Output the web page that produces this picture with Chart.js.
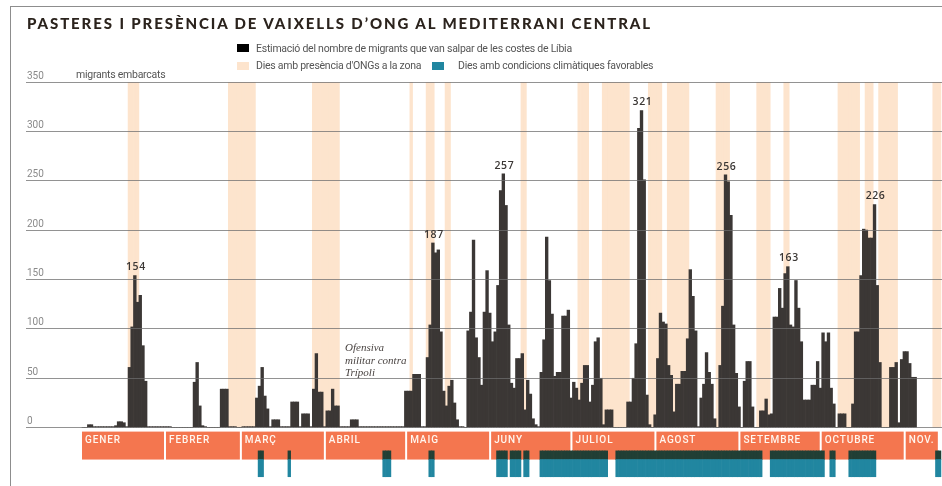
<!DOCTYPE html>
<html>
<head>
<meta charset="utf-8">
<script src="https://cdn.jsdelivr.net/npm/chart.js@4.4.1/dist/chart.umd.min.js"></script>
<style>
  body { margin: 0; background: #fff; width: 942px; height: 486px; overflow: hidden; position: relative; font-family: Roboto, sans-serif; }
  #frame { position: absolute; left: 10px; top: 6px; width: 940px; height: 490px; border-left: 1px solid #8d8d8d; border-top: 1px solid #8d8d8d; }
  canvas { position: absolute; left: 0; top: 0; }
  .t { position: absolute; white-space: nowrap; }
  #title { left: 27px; top: 16px; font: 900 15px/15px Lato, sans-serif; letter-spacing: 1.9px; color: #2b231d; }
  .leg { font-size: 10.5px; line-height: 12px; color: #555; letter-spacing: -0.25px; }
  .sq { position: absolute; width: 12px; height: 8px; }
  #note { left: 345px; top: 341px; font: italic 11px/12.5px "Liberation Serif", serif; color: #4a4442; }
</style>
</head>
<body>
<div id="frame"></div>
<canvas id="chart" width="942" height="486"></canvas>
<div class="t" id="title">PASTERES I PRESÈNCIA DE VAIXELLS D’ONG AL MEDITERRANI CENTRAL</div>

<div class="sq" style="left:237px;top:44px;background:#000"></div>
<div class="t leg" style="left:256px;top:43px">Estimació del nombre de migrants que van salpar de les costes de Líbia</div>
<div class="sq" style="left:237px;top:62px;background:#fde4cd"></div>
<div class="t leg" style="left:256px;top:60px">Dies amb presència d'ONGs a la zona</div>
<div class="sq" style="left:432px;top:62px;background:#2186a0"></div>
<div class="t leg" style="left:458px;top:60px">Dies amb condicions climàtiques favorables</div>

<div class="t leg" style="left:76px;top:69px">migrants embarcats</div>
<div class="t" id="note">Ofensiva<br>militar contra<br>Trípoli</div>

<script>
'use strict';

// migrants que surten cada dia (index 0 = 1 de gener)
let gener = [0, 0, 3, 3, 1, 1, 1, 1, 1, 1, 1, 1, 2, 6, 6, 5, 1, 61, 102, 154, 127, 134, 83, 47, 1, 1, 1, 1, 1, 1, 1];
let febrer = [1, 1, 0, 0, 0, 0, 0, 0, 0, 0, 46, 66, 22, 2, 1, 0, 0, 0, 0, 0, 39, 39, 39, 1, 1, 1, 0, 0];
let marc = [1, 1, 1, 1, 1, 30, 42, 61, 32, 19, 1, 8, 8, 8, 1, 1, 1, 1, 26, 26, 26, 1, 14, 14, 14, 1, 39, 75, 36, 36, 1];
let abril = [17, 17, 39, 22, 22, 1, 1, 1, 1, 8, 8, 8, 1, 1, 1, 1, 1, 1, 1, 1, 1, 1, 1, 1, 1, 1, 1, 1, 1, 37];
let maig = [37, 37, 54, 54, 54, 1, 1, 71, 104, 187, 177, 180, 97, 37, 22, 42, 48, 25, 8, 1, 1, 0, 98, 117, 190, 91, 71, 43, 117, 159, 116];
let juny = [87, 97, 144, 240, 257, 225, 104, 45, 40, 70, 70, 75, 18, 48, 34, 9, 3, 1, 56, 89, 193, 149, 115, 52, 56, 56, 113, 113, 119, 30];
let juliol = [46, 40, 28, 45, 63, 63, 26, 43, 87, 91, 50, 3, 18, 18, 18, 0, 0, 0, 0, 0, 26, 26, 50, 85, 303, 321, 251, 33, 3, 0, 13];
let agost = [70, 116, 107, 105, 63, 53, 16, 44, 44, 57, 57, 90, 160, 133, 98, 1, 30, 44, 76, 56, 44, 9, 0, 63, 123, 256, 249, 215, 104, 55, 21];
let setembre = [0, 47, 67, 67, 21, 0, 0, 17, 17, 29, 13, 14, 112, 112, 141, 121, 156, 163, 104, 102, 149, 121, 87, 28, 28, 28, 43, 43, 67, 40];
let octubre = [96, 87, 96, 40, 24, 0, 14, 14, 14, 0, 0, 24, 97, 97, 154, 201, 200, 192, 192, 226, 144, 66, 0, 0, 0, 61, 61, 66, 5, 69, 77];
let novembre = [77, 65, 51, 51];

// dies amb vaixells d'ONG a la zona [primer dia, últim dia]
let ongDays = [[17, 20], [54, 63], [85, 94], [121, 121], [127, 129], [134, 135], [162, 163], [183, 186], [192, 201],
  [209, 213], [216, 223], [234, 238], [249, 253], [259, 260], [279, 286], [289, 291], [294, 300], [314, 316]];

// dies amb condicions climàtiques favorables
let goodWeatherDays = [[65, 66], [76, 76], [111, 113], [128, 129], [153, 156], [158, 161], [163, 164], [169, 193],
  [197, 250], [254, 273], [276, 277], [283, 292], [315, 316]];

let monthNames = ['GENER', 'FEBRER', 'MARÇ', 'ABRIL', 'MAIG', 'JUNY', 'JULIOL', 'AGOST', 'SETEMBRE', 'OCTUBRE', 'NOV.'];
let monthLengths = [31, 28, 31, 30, 31, 30, 31, 31, 30, 31, 12.6];

let yTicks = [0, 50, 100, 150, 200, 250, 300, 350];
let peakDays = [19, 129, 155, 206, 237, 260, 292];

let migrants = [].concat(gener, febrer, marc, abril, maig, juny, juliol, agost, setembre, octubre, novembre);

function expand(ranges) {
  let days = [];
  ranges.forEach(r => {
    for (let d = r[0]; d <= r[1]; d++) days.push(d);
  });
  return days;
}

let monthStarts = [0];
for (let i = 0; i < monthLengths.length; i++) {
  monthStarts.push(monthStarts[i] + monthLengths[i]);
}

// month strip under the axis, drawn from the x scale
let monthStrip = {
  id: 'monthStrip',
  beforeDatasetsDraw(chart) {
    let ctx = chart.ctx;
    let x = chart.scales.x;
    let y = chart.scales.y;
    let top = y.getPixelForValue(-4);
    let bottom = y.getPixelForValue(-32.3);
    ctx.save();
    for (let i = 0; i < monthNames.length; i++) {
      let left = x.getPixelForValue(monthStarts[i] - 0.5);
      let right = x.getPixelForValue(monthStarts[i + 1] - 0.5) - 2;
      ctx.fillStyle = '#f4764f';
      ctx.fillRect(left, top, right - left, bottom - top);
      ctx.fillStyle = '#fff6ef';
      ctx.font = '500 10px Roboto';
      ctx.letterSpacing = '0.9px';
      ctx.textBaseline = 'middle';
      ctx.fillText(monthNames[i], left + 3, top + 9);
    }
    ctx.restore();
  }
};

let peakLabels = {
  id: 'peakLabels',
  afterDraw(chart) {
    let ctx = chart.ctx;
    ctx.save();
    ctx.font = '600 10.5px "Open Sans"';
    ctx.letterSpacing = '0.6px';
    ctx.fillStyle = '#3b3735';
    ctx.textAlign = 'center';
    ctx.textBaseline = 'bottom';
    peakDays.forEach(d => {
      let px = chart.scales.x.getPixelForValue(d);
      let py = chart.scales.y.getPixelForValue(migrants[d]);
      ctx.fillText(String(migrants[d]), px + 1, py - 3);
    });
    ctx.restore();
  }
};

let migrantPoints = migrants.map((v, i) => ({ x: i, y: v }));
let ongPoints = expand(ongDays).map(d => ({ x: d, y: [0, 350] }));
// the weather strip overlaps the month strip: darker part over it, teal below
let weatherOverlap = expand(goodWeatherDays).map(d => ({ x: d, y: [-23.5, -32.3] }));
let weatherPoints = expand(goodWeatherDays).map(d => ({ x: d, y: [-32.3, -49.7] }));

let myChart = new Chart(document.getElementById('chart'), {
  type: 'bar',
  data: {
    datasets: [
      { label: 'migrants', data: migrantPoints, backgroundColor: '#3b3735', order: 1 },
      { label: 'ong', data: ongPoints, backgroundColor: '#fde4cd', order: 3 },
      { label: 'clima', data: weatherPoints, backgroundColor: '#2186a0', order: 2 },
      { label: 'clima-mes', data: weatherOverlap, backgroundColor: '#213f35', order: 2 }
    ]
  },
  options: {
    responsive: false,
    animation: false,
    devicePixelRatio: 1,
    layout: { padding: { left: 26, top: 82, right: 0, bottom: 5.5 } },
    datasets: {
      bar: { grouped: false, barPercentage: 1, categoryPercentage: 1, borderWidth: 0 }
    },
    plugins: {
      legend: { display: false },
      tooltip: { enabled: false }
    },
    scales: {
      x: { type: 'linear', min: -21.168, max: 316.9, offset: false, display: false },
      y: {
        min: -52,
        max: 350,
        afterFit: s => { s.width = 0; },
        afterBuildTicks: s => { s.ticks = yTicks.map(v => ({ value: v })); },
        border: { display: false },
        grid: { color: 'rgba(110,110,110,0.75)', lineWidth: 1, drawTicks: false, z: 1 },
        ticks: { mirror: true, padding: 1, labelOffset: -6, color: '#8a8a8a', font: { family: 'Roboto', size: 10 } }
      }
    }
  },
  plugins: [monthStrip, peakLabels]
});
</script>
</body>
</html>
